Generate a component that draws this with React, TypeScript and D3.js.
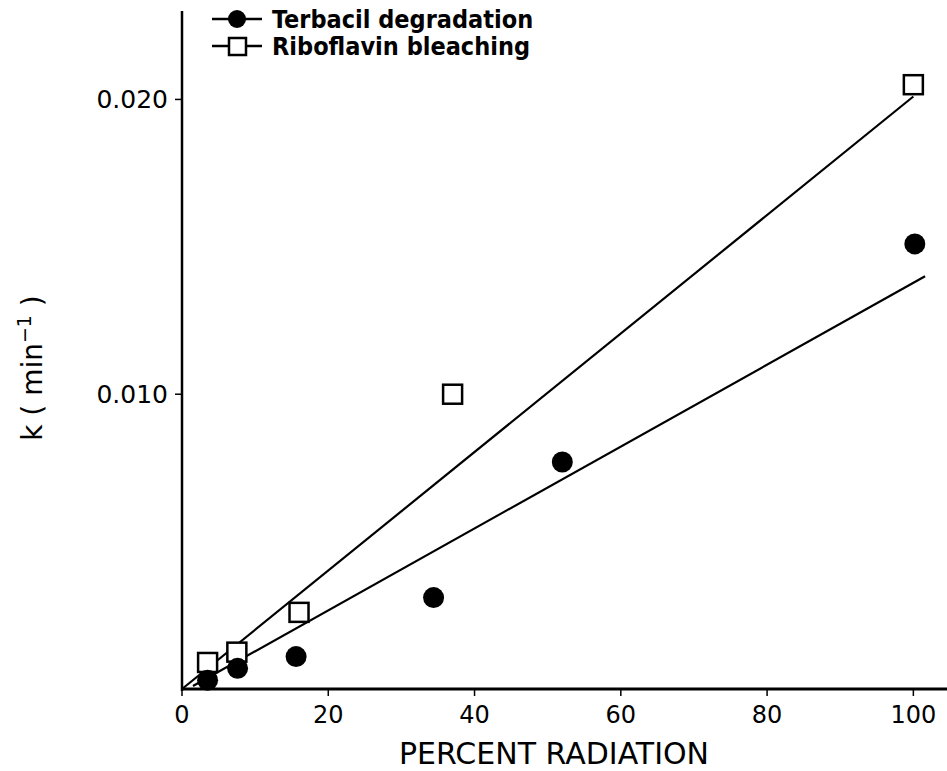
import React from "react";
import * as d3 from "d3";

const terbacilX = [3.5, 7.6, 15.6, 34.4, 52.0, 100.2];
const terbacilY = [0.0003, 0.0007, 0.0011, 0.0031, 0.0077, 0.0151];
const riboX = [3.5, 7.5, 16.0, 37.0, 100.0];
const riboY = [0.0009, 0.00125, 0.0026, 0.0100, 0.0205];
const terbacilFitX = [1.5, 101.6];
const terbacilFitY = [0.0001, 0.0140];
const riboFitX = [0, 100];
const riboFitY = [0.0, 0.0201];
const xTicks = [0, 20, 40, 60, 80, 100];
const yTicks = [0.01, 0.02];
const yTickLabels = ["0.010", "0.020"];
const legendLabels = ["Terbacil degradation", "Riboflavin bleaching"];

const W = 947;
const H = 771;

export default function App() {
  const x = d3.scaleLinear().domain([0, 104.6]).range([182, 947]);
  const y = d3.scaleLinear().domain([0, 0.023]).range([689, 11]);
  const line = d3
    .line<[number, number]>()
    .x((d) => x(d[0]))
    .y((d) => y(d[1]));
  const terbFit: [number, number][] = terbacilFitX.map((v, i) => [v, terbacilFitY[i]]);
  const riboFit: [number, number][] = riboFitX.map((v, i) => [v, riboFitY[i]]);
  const tickFont = "'DejaVu Sans', sans-serif";
  const legendFont = "'DejaVu Sans Condensed', 'DejaVu Sans', sans-serif";
  const sq = 19;
  return (
    <svg
      width={W}
      height={H}
      style={{ position: "absolute", left: 0, top: 0, background: "#fff" }}
    >
      <rect x={0} y={0} width={W} height={H} fill="#fff" />
      {/* fit lines */}
      <path d={line(riboFit) || ""} stroke="#000" strokeWidth={2.2} fill="none" />
      <path d={line(terbFit) || ""} stroke="#000" strokeWidth={2.2} fill="none" />
      {/* axes */}
      <line x1={x(0)} x2={x(0)} y1={y(0) + 2} y2={y(0.023)} stroke="#000" strokeWidth={2.5} />
      <line x1={x(0)} x2={x(104.6)} y1={y(0)} y2={y(0)} stroke="#000" strokeWidth={3} />
      {xTicks.map((t) => (
        <g key={"xt" + t}>
          <line x1={x(t)} x2={x(t)} y1={y(0)} y2={y(0) + 7} stroke="#000" strokeWidth={1.5} />
          <text
            x={x(t)}
            y={y(0) + 34}
            textAnchor="middle"
            fontFamily={tickFont}
            fontSize={24}
            fill="#000"
          >
            {t}
          </text>
        </g>
      ))}
      {yTicks.map((t, i) => (
        <g key={"yt" + t}>
          <line x1={x(0) - 7} x2={x(0)} y1={y(t)} y2={y(t)} stroke="#000" strokeWidth={1.5} />
          <text
            x={x(0) - 14}
            y={y(t) + 9}
            textAnchor="end"
            fontFamily={tickFont}
            fontSize={25}
            fill="#000"
          >
            {yTickLabels[i]}
          </text>
        </g>
      ))}
      {/* axis titles */}
      <text
        x={554}
        y={764}
        textAnchor="middle"
        fontFamily={tickFont}
        fontSize={30}
        fill="#000"
      >
        PERCENT RADIATION
      </text>
      <text
        transform={`translate(42, 368) rotate(-90)`}
        textAnchor="middle"
        fontFamily={tickFont}
        fontSize={28}
        fill="#000"
      >
        k ( min
        <tspan dy={-11} fontSize={19}>−1</tspan>
        <tspan dy={11}> )</tspan>
      </text>
      {/* markers */}
      {riboX.map((v, i) => (
        <rect
          key={"r" + i}
          x={x(v) - sq / 2}
          y={y(riboY[i]) - sq / 2}
          width={sq}
          height={sq}
          fill="#fff"
          stroke="#000"
          strokeWidth={2.5}
        />
      ))}
      {terbacilX.map((v, i) => (
        <circle key={"t" + i} cx={x(v)} cy={y(terbacilY[i])} r={10.5} fill="#000" />
      ))}
      {/* legend */}
      <g>
        <line x1={212} x2={262} y1={19} y2={19} stroke="#000" strokeWidth={2.5} />
        <circle cx={237} cy={19} r={9} fill="#000" />
        <text x={272} y={28} fontFamily={legendFont} fontWeight="bold" fontSize={25} fill="#000">
          {legendLabels[0]}
        </text>
        <line x1={212} x2={262} y1={46} y2={46} stroke="#000" strokeWidth={2.5} />
        <rect x={229} y={38} width={17} height={17} fill="#fff" stroke="#000" strokeWidth={2.5} />
        <text x={272} y={55} fontFamily={legendFont} fontWeight="bold" fontSize={25} fill="#000">
          {legendLabels[1]}
        </text>
      </g>
    </svg>
  );
}
